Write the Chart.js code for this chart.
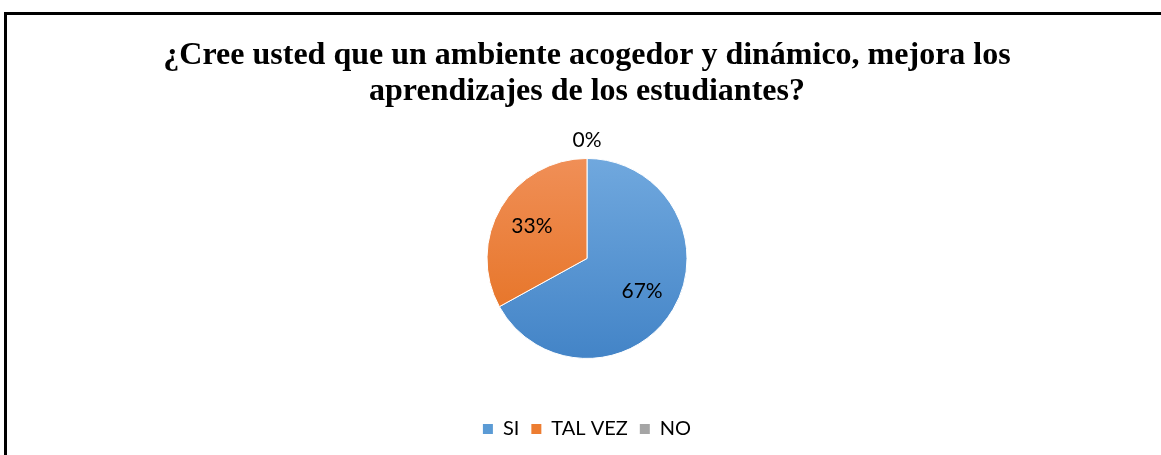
<!DOCTYPE html>
<html lang="es">
<head>
<meta charset="utf-8">
<title>Ambiente acogedor</title>
<script src="https://cdn.jsdelivr.net/npm/chart.js@4.4.1/dist/chart.umd.min.js"></script>
<style>
    html, body { margin: 0; padding: 0; background: #fff; overflow: hidden; }
    #contenedor { position: relative; width: 1161px; height: 455px; }
    #marco { position: absolute; left: 4px; top: 12px; width: 2000px; height: 2000px; border: 3px solid #000; pointer-events: none; }
</style>
</head>
<body>
<div id="contenedor">
    <canvas id="grafico" width="1161" height="455"></canvas>
    <div id="marco"></div>
</div>
<script>
//datos del gráfico
const categorias = ["SI", "TAL VEZ", "NO"];
const porcentajes = [67, 33, 0];
const etiquetas = ["67%", "33%", "0%"];
const titulo = ["¿Cree usted que un ambiente acogedor y dinámico, mejora los", "aprendizajes de los estudiantes?"];
//colores (sólidos para la leyenda, degradado para las porciones)
const colores = ["#5b9bd5", "#ed7d31", "#a5a5a5"];
const coloresArriba = ["#70a8de", "#f08f57", "#b5b5b5"];
const coloresAbajo = ["#4384c7", "#e46e1c", "#969696"];

//degradado vertical de cada porción
const degradado = (context) => {
    const chart = context.chart;
    const area = chart.chartArea;
    const i = context.dataIndex;
    if (!area) return colores[i];
    const cy = (area.top + area.bottom) / 2;
    const g = chart.ctx.createLinearGradient(0, cy - 100, 0, cy + 100);
    g.addColorStop(0, coloresArriba[i]);
    g.addColorStop(1, coloresAbajo[i]);
    return g;
};

//plugin para escribir los porcentajes
const etiquetasDatos = {
    id: "etiquetasDatos",
    afterDatasetsDraw(chart) {
        const ctx = chart.ctx;
        const meta = chart.getDatasetMeta(0);
        ctx.save();
        ctx.font = "21px Lato";
        ctx.fillStyle = "#000";
        ctx.textAlign = "center";
        ctx.textBaseline = "middle";
        meta.data.forEach((arco, i) => {
            const p = arco.getProps(["x", "y", "startAngle", "endAngle", "outerRadius"], true);
            const medio = (p.startAngle + p.endAngle) / 2;
            const r = porcentajes[i] === 0 ? p.outerRadius + 18 : p.outerRadius * 0.64;
            ctx.fillText(etiquetas[i], p.x + Math.cos(medio) * r, p.y + Math.sin(medio) * r);
        });
        ctx.restore();
    }
};

const ctx = document.getElementById("grafico").getContext("2d");
const grafico = new Chart(ctx, {
    type: "pie",
    data: {
        labels: categorias,
        datasets: [{
            data: porcentajes,
            backgroundColor: degradado,
            borderColor: "#fff",
            borderWidth: 1
        }]
    },
    options: {
        responsive: false,
        animation: false,
        radius: 100,
        layout: { padding: { left: 13, right: 0, top: 0, bottom: 6 } },
        plugins: {
            title: {
                display: true,
                text: titulo,
                color: "#000",
                font: { family: "Liberation Serif", size: 32, weight: "bold", lineHeight: 1.1 },
                padding: { top: 38.5, bottom: 1 }
            },
            legend: {
                position: "bottom",
                labels: {
                    color: "#000",
                    font: { family: "Lato", size: 20, lineHeight: 1 },
                    boxWidth: 10,
                    boxHeight: 10,
                    padding: 12,
                    generateLabels: (chart) => categorias.map((c, i) => ({
                        text: c,
                        fillStyle: colores[i],
                        strokeStyle: colores[i],
                        lineWidth: 0,
                        hidden: false,
                        index: i
                    }))
                }
            },
            tooltip: { enabled: false }
        }
    },
    plugins: [etiquetasDatos]
});
</script>
</body>
</html>
